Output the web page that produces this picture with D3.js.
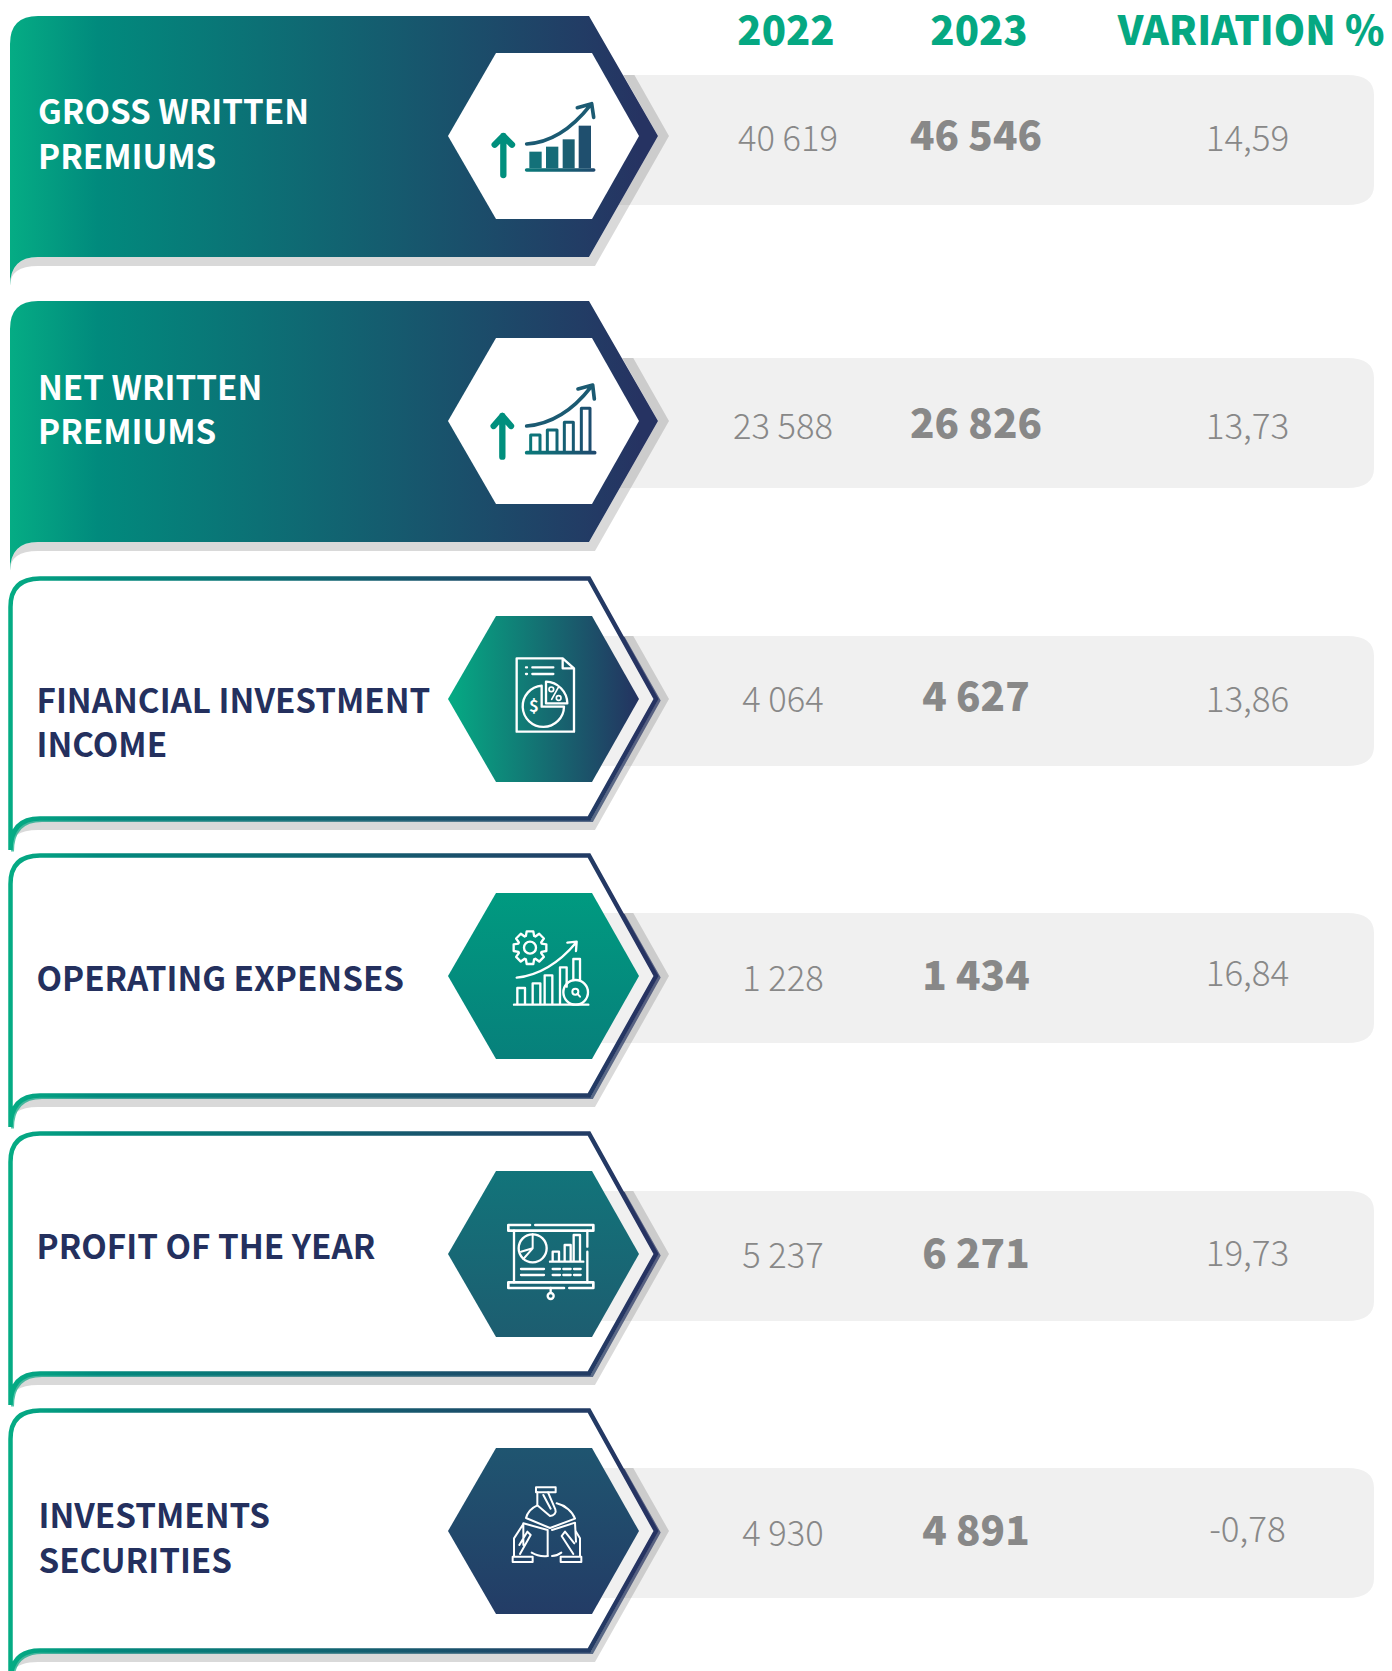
<!DOCTYPE html>
<html>
<head>
<meta charset="utf-8">
<script src="https://cdn.jsdelivr.net/npm/d3@7"></script>
<style>
  html, body { margin: 0; padding: 0; background: #fff; }
  svg { display: block; }
  text { font-family: "Noto Sans CJK SC", "Noto Sans", sans-serif; }
</style>
</head>
<body>
<div id="content"></div>
<script>
// Table data.
var columns = ['2022', '2023', 'VARIATION %'];
var categories = [
  ['GROSS WRITTEN', 'PREMIUMS'],
  ['NET WRITTEN', 'PREMIUMS'],
  ['FINANCIAL INVESTMENT', 'INCOME'],
  ['OPERATING EXPENSES'],
  ['PROFIT OF THE YEAR'],
  ['INVESTMENTS', 'SECURITIES']
];
var values2022 = [40619, 23588, 4064, 1228, 5237, 4930];
var values2023 = [46546, 26826, 4627, 1434, 6271, 4891];
var variation = [14.59, 13.73, 13.86, 16.84, 19.73, -0.78];

// Layout, in page pixels, one entry per row.
var bandTops = [16, 301, 576, 853, 1131, 1408];
var bandHeights = [241, 241, 245, 245, 245, 245];
var rowTops = [75, 358, 636, 913, 1191, 1468];
var hexCentres = [136, 421, 699, 976, 1254, 1531];
var labelX = [38, 38, 36.5, 36.5, 36.5, 38.5];
var labelBaselines = [[124, 169], [399.5, 444], [713, 757], [991], [1259], [1528, 1573]];
var x2022 = [788, 783, 783, 783, 783, 783];
var y2022 = [150.5, 438.5, 711.5, 990.5, 1268, 1546];
var y2023 = [150, 438, 711, 989.5, 1267.5, 1545];
var yVariation = [150.5, 438.5, 711.5, 986, 1266, 1542];
// Hexagon fills: [direction, from, to].
var hexFills = [
  ['h', '#ffffff', '#ffffff'],
  ['h', '#ffffff', '#ffffff'],
  ['h', '#05ab84', '#243260'],
  ['v', '#009a80', '#07807b'],
  ['v', '#12747a', '#1d5d70'],
  ['v', '#1f5570', '#233c66']
];

var width = 1392;
var height = 1671;
var green = '#05a882';
var navy = '#24305e';
var grey = '#888888';

var svg = d3.select('#content')
              .append('svg')
              .attr('width', width)
              .attr('height', height);
var defs = svg.append('defs');

// Number format of the source: space for thousands, comma for decimals.
var locale = d3.formatLocale({decimal : ',', thousands : ' ', grouping : [ 3 ], currency : [ '', '' ], minus : '-'});
var fmtInt = locale.format(',d');
var fmtPct = locale.format('.2f');

// Column positions.
var xCol = d3.scaleOrdinal().domain(columns).range([ 786, 976, 1247.5 ]);
var xHead = d3.scaleOrdinal().domain(columns).range([ 786, 979, 1251 ]);

function gradient(id, stops, x1, y1, x2, y2) {
  var g = defs.append('linearGradient')
                .attr('id', id)
                .attr('gradientUnits', 'userSpaceOnUse')
                .attr('x1', x1).attr('y1', y1)
                .attr('x2', x2).attr('y2', y2);
  stops.forEach(function(s) {
    g.append('stop').attr('offset', s[0]).attr('stop-color', s[1]);
  });
}

gradient('band', [ [ 0, '#05ac84' ], [ 0.14, '#018a7d' ], [ 1, '#263362' ] ], 10, 0, 640, 0);
gradient('iconDark', [ [ 0, '#0a7a7a' ], [ 1, '#1f4a6e' ] ], 258, 0, 466, 0);

// Header row.
svg.selectAll('text.head')
    .data(columns)
    .enter()
    .append('text')
    .attr('class', 'head')
    .attr('x', function(d) { return xHead(d); })
    .attr('y', 45)
    .attr('text-anchor', 'middle')
    .attr('font-size', 40)
    .attr('font-weight', 900)
    .attr('fill', green)
    .text(function(d) { return d; });

var rows = svg.selectAll('g.row')
                .data(categories)
                .enter()
                .append('g')
                .attr('class', 'row');

rows.each(function(label, i) {
  var g = d3.select(this);
  var top = bandTops[i];
  var filled = i < 2;
  var rowTop = rowTops[i];
  var cy = hexCentres[i];
  var bottom = top + bandHeights[i];
  var tail = bottom + 29;
  var lean = (cy - rowTop) * 0.567;

  // Band body, grey row and shadow crescent.
  if (!filled) {
    g.append('path')
        .attr('d', bandPath(10, top, 589, 658, cy, bottom, tail))
        .attr('fill', '#fff');
  }
  var rowX = 560, rowR = 1374, rowB = rowTop + 130;
  g.append('path')
      .attr('d', 'M' + rowX + ',' + rowTop + 'H' + (rowR - 27) +
                 'Q' + rowR + ',' + rowTop + ' ' + rowR + ',' + (rowTop + 20) +
                 'V' + (rowB - 20) +
                 'Q' + rowR + ',' + rowB + ' ' + (rowR - 27) + ',' + rowB +
                 'H' + rowX + 'Z')
      .attr('fill', '#f0f0f0');
  g.append('path')
      .attr('d', 'M' + (658 - lean) + ',' + rowTop + 'H' + (669 - lean) + 'L669,' + cy +
                 'L595,' + (bottom + 9) + 'H38Q10,' + (bottom + 9) + ' 10,' + tail +
                 'Q10,' + bottom + ' 38,' + bottom + 'H589L658,' + cy + 'Z')
      .attr('fill', '#000')
      .attr('opacity', 0.15);

  if (filled) {
    g.append('path')
        .attr('d', bandPath(10, top, 589, 658, cy, bottom, tail))
        .attr('fill', 'url(#band)');
  } else {
    // Outlined band: a second thin line hugs the main one.
    g.append('path')
        .attr('d', 'M10.5,' + tail + 'Q10.5,' + (bottom - 2) + ' 40,' + (bottom - 2) +
                   'H590L657,' + cy + 'L' + (657 - lean) + ',' + rowTop)
        .attr('fill', 'none')
        .attr('stroke', 'url(#band)')
        .attr('stroke-width', 3)
        .attr('opacity', 0.7)
        .attr('transform', 'translate(2,1.5)');
    g.append('path')
        .attr('d', 'M10.5,' + tail + 'V' + (top + 31) + 'Q10.5,' + (top + 2.5) + ' 40,' + (top + 2.5) +
                   'H589L656,' + cy + 'L589,' + (bottom - 2.5) + 'H40Q10.5,' + (bottom - 2.5) + ' 10.5,' + tail)
        .attr('fill', 'none')
        .attr('stroke', 'url(#band)')
        .attr('stroke-width', 4.5);
  }

  // Hexagon.
  var hexId = 'hex' + i;
  var f = hexFills[i];
  if (f[0] === 'h') {
    gradient(hexId, [ [ 0, f[1] ], [ 1, f[2] ] ], 448, 0, 639, 0);
  } else {
    gradient(hexId, [ [ 0, f[1] ], [ 1, f[2] ] ], 0, cy - 83, 0, cy + 83);
  }
  g.append('path')
      .attr('d', d3.line()([ [ 448, cy ], [ 496, cy - 83 ], [ 592, cy - 83 ], [ 639, cy ], [ 592, cy + 83 ], [ 496, cy + 83 ] ]) + 'Z')
      .attr('fill', 'url(#' + hexId + ')');

  // Row label.
  label.forEach(function(line, k) {
    g.append('text')
        .attr('x', labelX[i])
        .attr('y', labelBaselines[i][k])
        .attr('font-size', 33.2)
        .attr('font-weight', 700)
        .attr('fill', filled ? '#fff' : navy)
        .text(line);
  });

  // Values.
  g.append('text')
      .attr('x', x2022[i])
      .attr('y', y2022[i])
      .attr('text-anchor', 'middle')
      .attr('font-size', 34.5)
      .attr('font-weight', 300)
      .attr('fill', grey)
      .text(fmtInt(values2022[i]));
  g.append('text')
      .attr('x', xCol('2023'))
      .attr('y', y2023[i])
      .attr('text-anchor', 'middle')
      .attr('font-size', 40.3)
      .attr('font-weight', 900)
      .attr('fill', grey)
      .text(fmtInt(values2023[i]));
  g.append('text')
      .attr('x', xCol('VARIATION %'))
      .attr('y', yVariation[i])
      .attr('text-anchor', 'middle')
      .attr('font-size', 35)
      .attr('font-weight', 300)
      .attr('fill', grey)
      .text(fmtPct(variation[i]));
});

function bandPath(x, top, xr, tip, cy, bottom, tail) {
  return 'M' + x + ',' + tail + 'V' + (top + 28) + 'Q' + x + ',' + top + ' ' + (x + 28) + ',' + top +
         'H' + xr + 'L' + tip + ',' + cy + 'L' + xr + ',' + bottom + 'H' + (x + 28) +
         'Q' + x + ',' + bottom + ' ' + x + ',' + tail + 'Z';
}

// Icons, drawn in 3x crop units relative to a local origin.
function icon(ox, oy) {
  return svg.append('g')
      .attr('transform', 'translate(' + ox + ',' + oy + ') scale(' + 1 / 3 + ')')
      .attr('fill', 'none')
      .attr('stroke-linecap', 'round')
      .attr('stroke-linejoin', 'round');
}
function stroke(g, d, w, c) {
  return g.append('path').attr('d', d).attr('stroke-width', w).attr('stroke', c);
}

// Row 1: arrow and solid bars.
var i1 = icon(440, 60);
stroke(i1, 'M190,345V228M164,254L190,228L216,254', 19, '#008f7d');
i1.append('rect').attr('x', 268).attr('y', 275).attr('width', 37).attr('height', 50).attr('fill', '#137179');
i1.append('rect').attr('x', 318).attr('y', 260).attr('width', 37).attr('height', 65).attr('fill', '#156b77');
i1.append('rect').attr('x', 368).attr('y', 238).attr('width', 36).attr('height', 87).attr('fill', '#1a5f72');
i1.append('rect').attr('x', 416).attr('y', 197).attr('width', 37).attr('height', 128).attr('fill', '#1f4f6e');
stroke(i1, 'M260,330H461', 11, 'url(#iconDark)');
stroke(i1, 'M260,252C330,248 392,210 450,137M412,143L455,131L461,172', 11, '#1b5a72');

// Row 2: arrow and outlined bars.
var i2 = icon(440, 340);
stroke(i2, 'M187,350V228M161,258L187,228L213,258', 19, '#008f7d');
stroke(i2, 'M272,335V285H300V335M322,335V270H351V335M373,335V247H400V335M424,335V205H450V335', 9, 'url(#iconDark)');
stroke(i2, 'M260,338H464', 11, 'url(#iconDark)');
stroke(i2, 'M260,258C330,252 395,215 452,142M414,147L458,135L463,177', 11, '#1b5a72');

// Row 3: document with pie.
var i3 = icon(440, 600);
stroke(i3, 'M230,175H368L402,205V395H230ZM368,175V205H402', 7, '#fff');
stroke(i3, 'M258,202H261M258,222H261M277,202H340M277,222H340', 7, '#fff');
stroke(i3, 'M305,257A62,62 0 1 0 372,320H305Z', 7, '#fff');
stroke(i3, 'M318,245A66,66 0 0 1 382,310H318Z', 7, '#fff');
stroke(i3, 'M335,298L355,262', 5, '#fff');
i3.append('circle').attr('cx', 334).attr('cy', 268).attr('r', 7).attr('stroke', '#fff').attr('stroke-width', 5);
i3.append('circle').attr('cx', 356).attr('cy', 294).attr('r', 7).attr('stroke', '#fff').attr('stroke-width', 5);
i3.append('text').attr('x', 282).attr('y', 336).attr('text-anchor', 'middle')
    .attr('font-size', 50).attr('font-weight', 700).attr('fill', '#fff').text('$');

// Row 4: gear, rising arrow, bars and dial.
var i4 = icon(440, 880);
var gearPts = [];
d3.range(8).forEach(function(k) {
  var a = k * Math.PI / 4;
  [ [ -0.34, 37 ], [ -0.2, 50 ], [ 0.2, 50 ], [ 0.34, 37 ] ].forEach(function(p) {
    gearPts.push([ a + p[0], p[1] ]);
  });
});
stroke(i4, d3.lineRadial().curve(d3.curveLinearClosed)(gearPts), 7, '#fff').attr('transform', 'translate(270,203)');
i4.append('circle').attr('cx', 270).attr('cy', 203).attr('r', 18).attr('stroke', '#fff').attr('stroke-width', 7);
stroke(i4, 'M230,293C300,285 360,245 408,188M382,188L410,185L408,213', 7, '#fff');
stroke(i4, 'M232,372V324H255V372M278,372V310H301V372M314,372V286H337V372M360,372V262H380V320M400,300V237H420V300', 7, '#fff');
i4.append('circle').attr('cx', 407).attr('cy', 337).attr('r', 37).attr('stroke', '#fff').attr('stroke-width', 7);
i4.append('circle').attr('cx', 406).attr('cy', 335).attr('r', 9).attr('stroke', '#fff').attr('stroke-width', 6);
stroke(i4, 'M412,341L420,350', 6, '#fff');
stroke(i4, 'M222,374H445', 7, '#fff');

// Row 5: presentation board.
var i5 = icon(440, 1150);
stroke(i5, 'M270,225H205V242H460V225H286', 8, '#fff');
stroke(i5, 'M372,414H205V397H460V414H388', 8, '#fff');
stroke(i5, 'M222,242V397M442,242V290M442,305V397', 7, '#fff');
i5.append('circle').attr('cx', 278).attr('cy', 295).attr('r', 42).attr('stroke', '#fff').attr('stroke-width', 7);
stroke(i5, 'M278,253V295L243,305M278,295L250,327', 6, '#fff');
stroke(i5, 'M338,333V305H357V333M374,333V285H392V333M401,333V255H420V333M330,335H430', 7, '#fff');
stroke(i5, 'M243,357H312M243,375H312M338,357H360M370,357H392M402,357H422M338,375H360M370,375H392M402,375H422', 7, '#fff');
stroke(i5, 'M332,414V428', 7, '#fff');
i5.append('circle').attr('cx', 332).attr('cy', 438).attr('r', 9).attr('stroke', '#fff').attr('stroke-width', 7);

// Row 6: three hands around a box.
var i6 = icon(440, 1430);
stroke(i6, 'M288,172H347V187H288ZM218,380H278V396H218ZM362,380H424V396H362Z', 6, '#fff');
stroke(i6, 'M292,187V226L330,258C342,258 350,248 346,238L324,187M310,195L332,236', 6, '#fff');
stroke(i6, 'M292,226C274,234 262,248 258,264L330,294L405,266C398,246 376,226 350,220', 6, '#fff');
stroke(i6, 'M250,280L323,300V378M336,300L405,278L408,335', 6, '#fff');
stroke(i6, 'M222,378V325L250,282V345M240,372L272,315L262,305L238,345', 6, '#fff');
stroke(i6, 'M420,378V325L408,305M400,372L365,318L375,305L403,340', 6, '#fff');
stroke(i6, 'M275,368C288,376 305,380 323,378M336,378C348,378 356,374 364,368', 6, '#fff');
</script>
</body>
</html>
